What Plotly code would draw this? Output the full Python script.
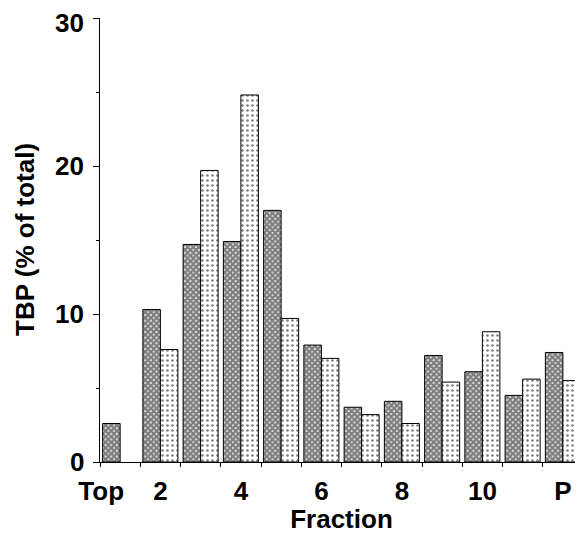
import plotly.graph_objects as go

fractions = ["Top", "2", "3", "4", "5", "6", "7", "8", "9", "10", "11", "P"]
tick_labels = ["Top", "2", "4", "6", "8", "10", "P"]
tick_fracs = ["Top", "2", "4", "6", "8", "10", "P"]
series_a = [2.6, 10.3, 14.7, 14.9, 17.0, 7.9, 3.7, 4.1, 7.2, 6.1, 4.5, 7.4]
series_b = [None, 7.6, 19.7, 24.8, 9.7, 7.0, 3.2, 2.6, 5.4, 8.8, 5.6, 5.5]
y_ticks = [0, 10, 20, 30]
y_minor = [5, 15, 25]

x_idx = list(range(len(fractions)))
tickvals = [float(fractions.index(f)) for f in tick_fracs]
tickvals[0] -= 0.47  # "Top" label sits at the axis origin in the original
boundaries = [i - 0.5 for i in range(len(fractions) + 1)]

FONT = dict(family="Liberation Sans, Arial, sans-serif", color="black", size=26, weight="bold")

fig = go.Figure()
fig.add_trace(go.Bar(
    x=x_idx, y=series_a, name="A",
    marker=dict(color="white", line=dict(color="black", width=1),
                pattern=dict(shape="x", fgcolor="black", bgcolor="white", size=4, solidity=0.85)),
))
fig.add_trace(go.Bar(
    x=x_idx, y=series_b, name="B",
    marker=dict(color="white", line=dict(color="black", width=1),
                pattern=dict(shape=".", fgcolor="black", bgcolor="white", size=5, solidity=0.22)),
))

# y tick labels as annotations so the top one can stay inside the figure like the original
for v in y_ticks:
    fig.add_annotation(
        x=0, xref="paper", y=v, yref="y",
        text=str(v), showarrow=False, font=FONT,
        xanchor="right", yanchor="middle", xshift=-14,
        yshift=(-5 if v == max(y_ticks) else 0),
    )

# page body has an 8px margin, so the figure is 8px smaller and margins shifted
fig.update_layout(
    width=575, height=526,
    margin=dict(l=92, r=0, t=10, b=72, autoexpand=False),
    paper_bgcolor="white", plot_bgcolor="white",
    barmode="group", bargap=0.13, bargroupgap=0,
    showlegend=False,
    font=FONT,
)
fig.update_xaxes(
    automargin=False,
    range=[-0.5, len(fractions) - 0.5],
    tickmode="array", tickvals=tickvals, ticktext=tick_labels,
    ticks="outside", ticklen=0, tickcolor="black",
    minor=dict(tickmode="array", tickvals=boundaries, ticks="outside", ticklen=4, tickcolor="black", tickwidth=1),
    showline=True, linecolor="black", linewidth=1,
    showgrid=False, zeroline=False,
    ticklabelstandoff=6,
    ticklabeloverflow="allow",
    tickfont=FONT,
    title=dict(text="Fraction", font=FONT, standoff=3),
)
fig.update_yaxes(
    automargin=False,
    range=[0, 30],
    tickmode="array", tickvals=y_ticks, showticklabels=False,
    ticks="outside", ticklen=6, tickcolor="black",
    minor=dict(tickmode="array", tickvals=y_minor, ticks="outside", ticklen=3, tickcolor="black"),
    showline=True, linecolor="black", linewidth=1,
    showgrid=False, zeroline=False,
)
fig.add_annotation(
    x=0, xref="paper", y=0.5, yref="paper",
    text="TBP (% of total)", textangle=-90, showarrow=False, font=FONT,
    xanchor="center", yanchor="middle", xshift=-75,
)

fig.write_html("out.html")
